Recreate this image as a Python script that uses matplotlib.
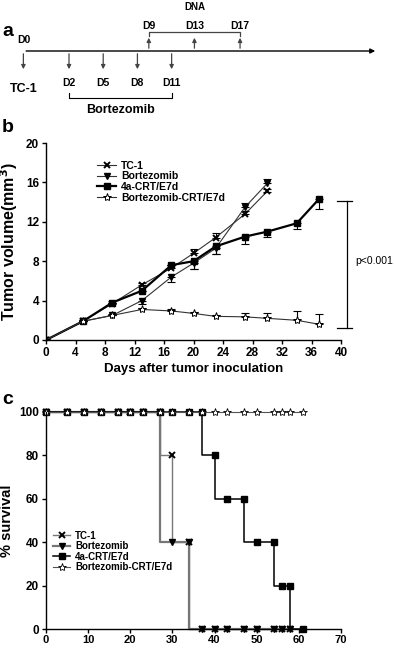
import matplotlib
matplotlib.use("Agg")
import matplotlib.pyplot as plt

plt.rcParams['font.family'] = ['Liberation Sans', 'DejaVu Sans']
plt.rcParams['font.weight'] = 'bold'
plt.rcParams['axes.labelweight'] = 'bold'

# ---- panel a: treatment schedule ----
tc1_days = [0]
bort_days = [2, 5, 8, 11]
dna_days = [9, 13, 17]

# ---- panel b: tumor volume ----
groups = ['TC-1', 'Bortezomib', '4a-CRT/E7d', 'Bortezomib-CRT/E7d']
days_short = [0, 5, 9, 13, 17, 20, 23, 27, 30]
days_long = [0, 5, 9, 13, 17, 20, 23, 27, 30, 34, 37]
vol_tc1 = [0, 1.9, 3.7, 5.6, 7.3, 8.8, 10.4, 12.8, 15.1]
vol_bort = [0, 1.9, 2.5, 4.0, 6.4, 7.8, 9.3, 13.5, 15.9]
vol_crt = [0, 1.9, 3.8, 5.0, 7.6, 8.0, 9.5, 10.5, 11.0, 11.85, 14.3]
vol_bcrt = [0, 1.9, 2.5, 3.1, 2.95, 2.7, 2.4, 2.35, 2.2, 2.0, 1.6]
err_tc1 = [[0, 0, 0, 0, 0, 0, 0, 0, 0.1], [0, 0.1, 0.1, 0.2, 0.3, 0.4, 0.5, 0.3, 0.2]]
err_bort = [[0, 0, 0, 0.35, 0.55, 0.6, 0.6, 0, 0], [0, 0, 0, 0, 0, 0, 0, 0.4, 0.4]]
err_crt = [[0, 0, 0, 0, 0, 0.8, 0.8, 0.75, 0.5, 0.6, 1.0], [0] * 11]
err_bcrt = [[0] * 11, [0, 0, 0, 0.15, 0.15, 0.1, 0.1, 0.35, 0.5, 0.9, 1.0]]
p_top, p_bottom = 14.1, 1.2

# ---- panel c: survival ----
surv_days = [0, 5, 9, 13, 17, 20, 23, 27, 30, 34, 37, 40, 43, 47, 50, 54, 56, 58, 61]
surv_tc1 = [100, 100, 100, 100, 100, 100, 100, 100, 80, 40, 0, 0, 0, 0, 0, 0, 0, 0]
surv_bort = [100, 100, 100, 100, 100, 100, 100, 100, 40, 40, 0, 0, 0, 0, 0, 0, 0, 0]
surv_crt = [100, 100, 100, 100, 100, 100, 100, 100, 100, 100, 100, 80, 60, 60, 40, 40, 20, 20, 0]
surv_bcrt = [100] * 19

W, H = 394, 648
fig = plt.figure(figsize=(W / 100, H / 100), dpi=100)

# ---------------- a ----------------
axa = fig.add_axes([0, 1 - 130 / H, 1, 130 / H])
axa.set_xlim(-4.05, 30.5)
axa.set_ylim(130, 0)
axa.axis('off')
d0 = -2  # D0 drawn a bit apart on the schematic
line_y = 51
axa.annotate('', xy=(29.1, line_y), xytext=(d0, line_y),
             arrowprops=dict(arrowstyle='-|>', color='black', lw=1, mutation_scale=7))
for d in tc1_days + bort_days:
    x = d0 if d == 0 else d
    axa.annotate('', xy=(x, 72), xytext=(x, line_y),
                 arrowprops=dict(arrowstyle='-|>', color='#444', lw=0.9, mutation_scale=6))
for d in dna_days:
    axa.annotate('', xy=(d, 35), xytext=(d, line_y),
                 arrowprops=dict(arrowstyle='-|>', color='#444', lw=0.9, mutation_scale=6))
    axa.text(d, 26, 'D%d' % d, ha='center', va='center', fontsize=7.5)
axa.plot([dna_days[0], dna_days[0], dna_days[-1], dna_days[-1]], [36, 32, 32, 36], color='#444', lw=0.9)
axa.text(dna_days[1], 7, 'DNA', ha='center', va='center', fontsize=7)
axa.text(d0, 40, 'D0', ha='center', va='center', fontsize=7.5)
axa.text(d0, 89, 'TC-1', ha='center', va='center', fontsize=9)
for d in bort_days:
    axa.text(d, 83, 'D%d' % d, ha='center', va='center', fontsize=7.5)
axa.plot([bort_days[0], bort_days[0], bort_days[-1], bort_days[-1]], [93, 98, 98, 93], color='black', lw=0.8)
axa.text((bort_days[0] + bort_days[-1]) / 2, 110, 'Bortezomib', ha='center', va='center', fontsize=9)

fig.text(2 / W, 1 - 31 / H, 'a', fontsize=14, va='center')
fig.text(2 / W, 1 - 128 / H, 'b', fontsize=14, va='center')
fig.text(2 / W, 1 - 400 / H, 'c', fontsize=14, va='center')

# ---------------- b ----------------
axb = fig.add_axes([46 / W, 1 - 340 / H, 295 / W, 197 / H])
styles = [dict(marker='x', ms=4, mew=1.4, lw=0.8, color='#333', mfc='black', mec='black'),
          dict(marker='v', ms=5, lw=0.8, color='#333', mfc='black', mec='black'),
          dict(marker='s', ms=4.5, lw=1.6, color='black', mfc='black', mec='black'),
          dict(marker='*', ms=6, lw=0.8, color='#333', mfc='white', mec='black', mew=0.7)]
series_b = [(days_short, vol_tc1, err_tc1), (days_short, vol_bort, err_bort),
            (days_long, vol_crt, err_crt), (days_long, vol_bcrt, err_bcrt)]
for name, (x, y, e), st in zip(groups, series_b, styles):
    axb.errorbar(x, y, yerr=e, fmt='none', capsize=3, elinewidth=0.8, ecolor='black', capthick=0.8)
    axb.plot(x, y, label=name, **st)
axb.set_xlim(0, 40)
axb.set_ylim(0, 20)
axb.set_xticks(range(0, 41, 4))
axb.set_yticks(range(0, 21, 4))
axb.set_xlabel('Days after tumor inoculation', fontsize=9.5, labelpad=3)
axb.set_ylabel('Tumor volume(mm$^\\mathbf{3}$)', fontsize=11.5, labelpad=4)
axb.legend(loc='upper left', bbox_to_anchor=(0.16, 0.93), frameon=False, fontsize=7.5,
           handlelength=1.8, labelspacing=0.05, borderaxespad=0, handletextpad=0.5)
# significance bracket
xb = 40.8
axb.plot([xb, xb], [p_bottom, p_top], color='black', lw=0.9, clip_on=False)
axb.plot([39.4, 41.5], [p_top, p_top], color='black', lw=0.9, clip_on=False)
axb.plot([39.4, 41.5], [p_bottom, p_bottom], color='black', lw=0.9, clip_on=False)
axb.text(41.9, 8, 'p<0.001', fontsize=7.5, fontweight='normal', va='center', clip_on=False)

# ---------------- c ----------------
axc = fig.add_axes([46 / W, 1 - 629 / H, 295 / W, 217.3 / H])
surv_series = [(surv_days[:18], surv_tc1), (surv_days[:18], surv_bort),
               (surv_days, surv_crt), (surv_days, surv_bcrt)]
surv_styles = [dict(marker='x', ms=4, mew=1.4, lw=1.0, color='#777', mfc='black', mec='black'),
               dict(marker='v', ms=5, lw=1.6, color='#777', mfc='black', mec='black'),
               dict(marker='s', ms=4.5, lw=1.1, color='black', mfc='black', mec='black'),
               dict(marker='*', ms=6, lw=0.8, color='#555', mfc='white', mec='black', mew=0.6)]
for name, (x, y), st in zip(groups, surv_series, surv_styles):
    axc.plot(x, y, drawstyle='steps-pre', label=name, clip_on=False, **st)
axc.set_xlim(0, 70)
axc.set_ylim(0, 100)
axc.set_xticks(range(0, 71, 10))
axc.set_yticks(range(0, 101, 20))
axc.set_ylabel('% survival', fontsize=10.5, labelpad=4)
axc.legend(loc='upper left', bbox_to_anchor=(0.01, 0.47), frameon=False, fontsize=7,
           handlelength=1.8, labelspacing=0.05, borderaxespad=0, handletextpad=0.5)

for ax in (axb, axc):
    ax.spines['top'].set_visible(False)
    ax.spines['right'].set_visible(False)
    ax.tick_params(direction='out', length=3, width=1, labelsize=8.5, pad=2)
    for sp in ('left', 'bottom'):
        ax.spines[sp].set_linewidth(1)
    plt.setp(ax.get_xticklabels() + ax.get_yticklabels(), fontweight='bold')
axc.tick_params(axis='x', labelsize=8, pad=1.5)

fig.savefig('out.png', dpi=100)
